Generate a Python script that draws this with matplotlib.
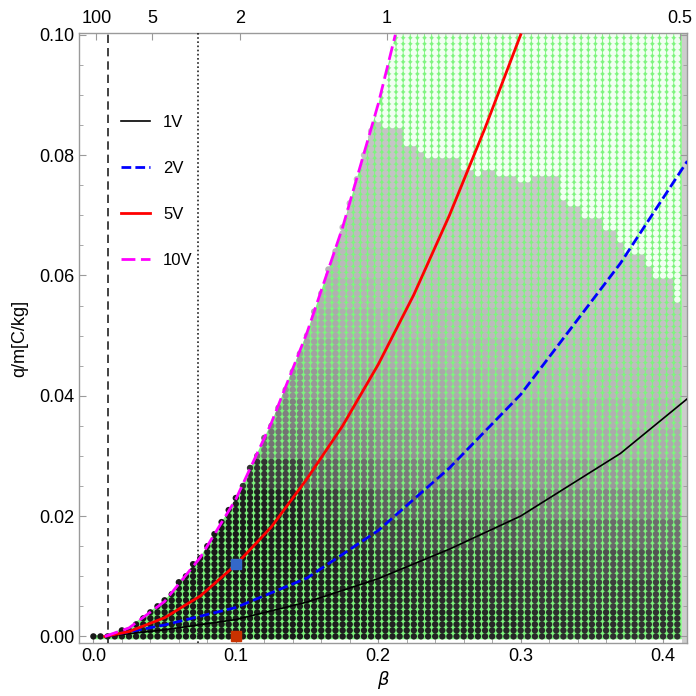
import numpy as np
import matplotlib.pyplot as plt

plt.rcParams['font.family'] = ['Liberation Sans', 'DejaVu Sans']

# q/m (C/kg) against beta for the four accelerating voltages
beta_1v = [0.008, 0.05, 0.1, 0.15, 0.2, 0.25, 0.3, 0.37, 0.417]
qm_1v = [0.0, 0.0011, 0.0028, 0.0057, 0.0096, 0.0145, 0.0200, 0.0304, 0.0395]
beta_2v = [0.008, 0.05, 0.1, 0.15, 0.2, 0.25, 0.3, 0.37, 0.417]
qm_2v = [0.0, 0.0019, 0.0048, 0.0097, 0.0176, 0.0280, 0.0402, 0.0620, 0.0790]
beta_5v = [0.008, 0.025, 0.05, 0.075, 0.1, 0.125, 0.15, 0.175, 0.2, 0.225, 0.25, 0.275, 0.3]
qm_5v = [0.0, 0.0008, 0.0031, 0.0067, 0.0119, 0.0182, 0.0262, 0.0350, 0.0452, 0.0568, 0.0700, 0.0845, 0.1000]
beta_10v = [0.008, 0.025, 0.05, 0.075, 0.1, 0.125, 0.15, 0.175, 0.2, 0.212]
qm_10v = [0.0, 0.0014, 0.0058, 0.0131, 0.0228, 0.0355, 0.0505, 0.0680, 0.0885, 0.1000]

# upper edge of the grey (non-white) points, beta = 0.20 ... 0.41
edge_beta = [0.20, 0.21, 0.22, 0.23, 0.24, 0.25, 0.26, 0.27, 0.28, 0.29, 0.30,
             0.31, 0.32, 0.33, 0.34, 0.35, 0.36, 0.37, 0.38, 0.39, 0.40, 0.41]
edge_qm = [0.085, 0.084, 0.081, 0.080, 0.079, 0.079, 0.077, 0.076, 0.077, 0.076, 0.075,
           0.076, 0.076, 0.072, 0.071, 0.069, 0.067, 0.065, 0.063, 0.061, 0.059, 0.055]

# mean grey level (0 black .. 255 white) in blocks of 0.025 beta x 0.005 q/m
grey_rows = [
    [25, 25, 25, 25, 25, 25, 28, 30, 32, 35, 35, 38, 42, 45, 45, 48, 48],
    [25, 25, 25, 25, 25, 28, 30, 32, 38, 42, 45, 50, 55, 58, 60, 62, 62],
    [25, 25, 25, 25, 25, 28, 35, 42, 50, 55, 60, 65, 72, 75, 80, 82, 85],
    [25, 25, 25, 25, 25, 30, 45, 55, 68, 75, 80, 88, 98, 102, 106, 108, 112],
    [25, 25, 25, 28, 30, 35, 62, 78, 95, 100, 105, 115, 125, 130, 133, 135, 140],
    [25, 25, 25, 35, 50, 65, 100, 110, 122, 128, 132, 140, 148, 150, 154, 156, 158],
    [105, 105, 105, 105, 110, 115, 128, 134, 142, 148, 152, 158, 162, 166, 170, 172, 172],
    [125, 125, 125, 125, 125, 128, 140, 146, 153, 158, 162, 166, 170, 174, 177, 180, 180],
    [145, 145, 145, 145, 145, 145, 152, 158, 164, 168, 172, 176, 179, 182, 184, 186, 186],
    [155, 155, 155, 155, 155, 155, 162, 167, 172, 176, 179, 182, 184, 187, 189, 190, 190],
    [165, 165, 165, 165, 165, 165, 170, 174, 178, 182, 184, 187, 189, 191, 192, 194, 194],
    [172, 172, 172, 172, 172, 172, 176, 180, 184, 187, 189, 191, 193, 195, 196, 197, 197],
    [178, 178, 178, 178, 178, 178, 181, 185, 188, 190, 192, 194, 196, 197, 198, 199, 199],
    [182, 182, 182, 182, 182, 182, 185, 188, 191, 193, 195, 196, 198, 199, 200, 200, 200],
    [186, 186, 186, 186, 186, 186, 188, 191, 193, 195, 197, 198, 199, 200, 201, 201, 201],
    [188, 188, 188, 188, 188, 188, 190, 193, 195, 197, 198, 199, 200, 201, 202, 202, 202],
    [190, 190, 190, 190, 190, 190, 192, 195, 197, 198, 199, 200, 201, 202, 203, 203, 203],
    [192, 192, 192, 192, 192, 192, 194, 196, 198, 199, 200, 201, 202, 203, 204, 204, 204],
    [194, 194, 194, 194, 194, 194, 195, 197, 199, 200, 201, 202, 203, 204, 205, 205, 205],
    [196, 196, 196, 196, 196, 196, 196, 198, 200, 201, 202, 203, 204, 205, 206, 206, 206],
]

# marked points
blue_pt = (0.1, 0.0121)
red_pt = (0.1, 0.0)

# vertical guide lines
dashed_beta = 0.0101
dotted_beta = 0.0735

# top scale: value = 0.206 / beta
top_vals = [100, 5, 2, 1, 0.5]
top_labels = ['100', '5', '2', '1', '0.5']

fig = plt.figure(figsize=(6.96, 6.96), dpi=100)
ax = fig.add_axes([79 / 696, 53 / 696, 608 / 696, 610 / 696])
ax.set_xlim(-0.0101, 0.4168)
ax.set_ylim(-0.0011, 0.1003)

# point grid
bb, qq = np.meshgrid(np.arange(0, 0.4101, 0.005), np.arange(0, 0.1001, 0.001))
bb = bb.ravel()
qq = qq.ravel()
inside = qq <= np.interp(bb, beta_10v, qm_10v) + 0.0004
bb, qq = bb[inside], qq[inside]

grey = np.array(grey_rows, dtype=float)
ci = np.clip((bb / 0.025 + 1e-9).astype(int), 0, grey.shape[1] - 1)
ri = np.clip((qq / 0.005 + 1e-9).astype(int), 0, grey.shape[0] - 1)
g = grey[ri, ci] / 255
colors = np.column_stack([g, g, g])

ei = np.clip(np.round((bb - 0.2) / 0.01).astype(int), 0, len(edge_beta) - 1)
white = (bb >= 0.1975) & (qq > np.array(edge_qm)[ei] + 1e-6)
colors[white] = (0.95, 1.0, 0.95)

# green background below the 10V curve
xf = np.linspace(-0.001, 0.4128, 500)
yf = np.minimum(np.interp(xf, beta_10v, qm_10v) + 0.0003, 0.1004)
ax.fill_between(xf, -0.0004, yf, color='#7df57d', lw=0, zorder=1)
ax.axvspan(0.4132, 0.42, color='#cdcdcd', lw=0, zorder=1)

ax.scatter(bb, qq, s=21, c=colors, linewidths=0, zorder=2)

ax.axvline(dashed_beta, color='#222222', lw=1.2, ls=(0, (5, 3)), zorder=3)
ax.axvline(dotted_beta, color='#222222', lw=1.2, ls=(0, (1, 1.5)), zorder=3)

ax.plot(beta_1v, qm_1v, color='black', lw=1.2, zorder=4, label='1V')
ax.plot(beta_2v, qm_2v, color='#0000ff', lw=2, ls=(0, (3.5, 1.5)), zorder=4, label='2V')
ax.plot(beta_5v, qm_5v, color='#ff0000', lw=2, zorder=4, label='5V')
ax.plot(beta_10v, qm_10v, color='#ff00ff', lw=2, ls=(0, (5, 2)), zorder=4, label='10V')

ax.plot(*blue_pt, marker='s', ms=7.5, color='#3468c8', zorder=6, clip_on=False)
ax.plot(*red_pt, marker='s', ms=7.5, color='#c83200', zorder=6, clip_on=False)

ax.legend(loc='upper left', bbox_to_anchor=(0.045, 0.89), frameon=False,
          fontsize=12, handlelength=1.7, handletextpad=0.8, labelspacing=1.85)

frame_col = '#9a9a9a'
for sp in ax.spines.values():
    sp.set_color(frame_col)
    sp.set_linewidth(1.0)

ax.set_xticks([0.0, 0.1, 0.2, 0.3, 0.4])
ax.set_xticklabels(['0.0', '0.1', '0.2', '0.3', '0.4'])
ax.set_xticks(np.arange(0.02, 0.41, 0.02), minor=True)
ax.set_yticks([0.0, 0.02, 0.04, 0.06, 0.08, 0.10])
ax.set_yticklabels(['0.00', '0.02', '0.04', '0.06', '0.08', '0.10'])
ax.set_yticks(np.arange(0.005, 0.1, 0.005), minor=True)
ax.tick_params(which='both', direction='in', colors=frame_col, labelcolor='black',
               labelsize=13, right=True)
ax.tick_params(which='major', length=5)
ax.tick_params(which='minor', length=3)
ax.tick_params(axis='x', which='both', top=False)

top = ax.twiny()
top.set_xlim(ax.get_xlim())
top.set_xticks([0.206 / v for v in top_vals])
top.set_xticklabels(top_labels)
top.tick_params(direction='in', colors=frame_col, labelcolor='black', labelsize=13,
                length=5, pad=4)
for sp in top.spines.values():
    sp.set_visible(False)

ax.set_xlabel(r'$\beta$', fontsize=13, labelpad=3)
ax.set_ylabel('q/m[C/kg]', fontsize=13, labelpad=8)

fig.savefig('out.png', dpi=100)
